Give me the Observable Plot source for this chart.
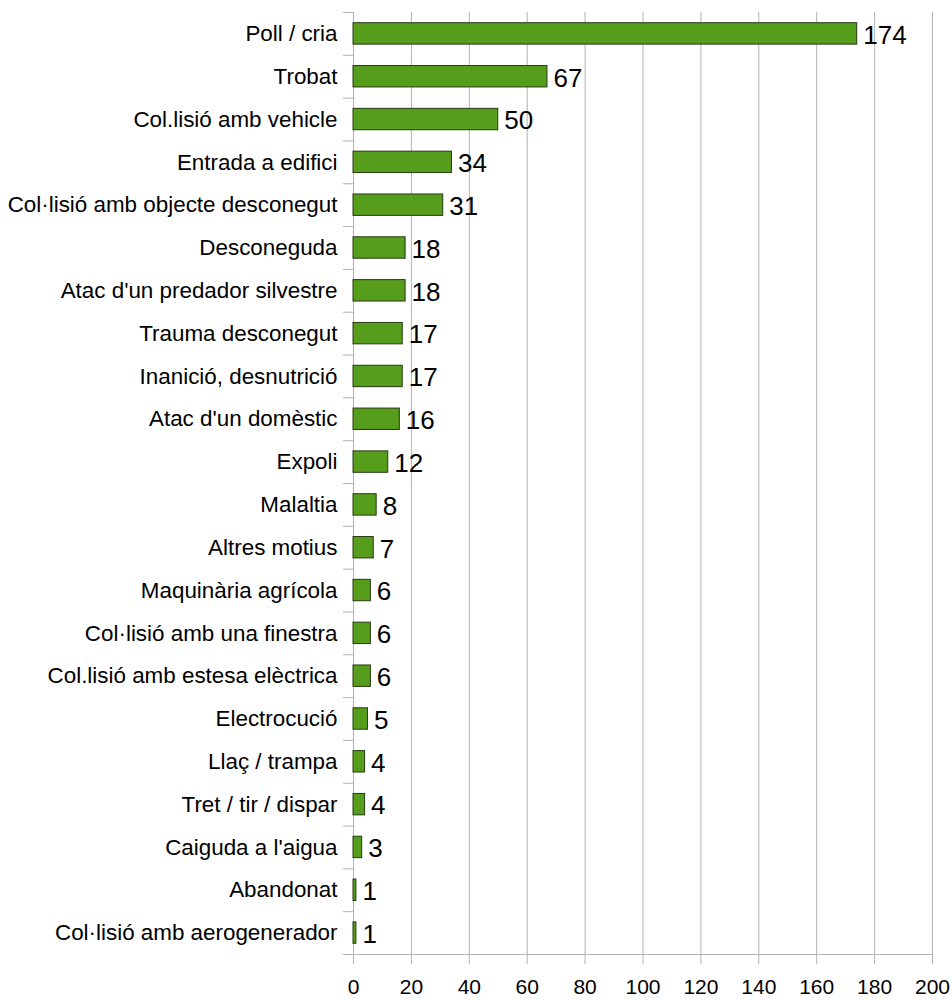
<!DOCTYPE html>
<html>
<head>
<meta charset="utf-8">
<script src="https://cdn.jsdelivr.net/npm/d3@7"></script>
<script src="https://cdn.jsdelivr.net/npm/@observablehq/plot@0.6"></script>
<style>
  html, body { margin: 0; padding: 0; background: #fff; }
  #chart svg { display: block; }
  #chart [aria-label="x-axis tick"] { stroke: #b3b3b3; }
</style>
</head>
<body>
<div id="chart"></div>
<script>
const categories = [
  "Poll / cria", "Trobat", "Col.lisió amb vehicle", "Entrada a edifici",
  "Col·lisió amb objecte desconegut", "Desconeguda", "Atac d'un predador silvestre",
  "Trauma desconegut", "Inanició, desnutrició", "Atac d'un domèstic", "Expoli",
  "Malaltia", "Altres motius", "Maquinària agrícola", "Col·lisió amb una finestra",
  "Col.lisió amb estesa elèctrica", "Electrocució", "Llaç / trampa",
  "Tret / tir / dispar", "Caiguda a l'aigua", "Abandonat", "Col·lisió amb aerogenerador"
];
const values = [174, 67, 50, 34, 31, 18, 18, 17, 17, 16, 12, 8, 7, 6, 6, 6, 5, 4, 4, 3, 1, 1];
const xTicks = [0, 20, 40, 60, 80, 100, 120, 140, 160, 180, 200];

const data = categories.map((c, i) => ({category: c, value: values[i]}));

const W = 952, H = 1000;
const mTop = 12, mBottom = 46, mLeft = 353, mRight = 20;
const step = (H - mTop - mBottom) / categories.length;
// band scale with padding 0.5 (inner & outer): range extended so band boundaries meet the frame
const r0 = mTop - step * 0.25;
const r1 = r0 + step * (categories.length + 0.5);

const chart = Plot.plot({
  width: W,
  height: H,
  marginTop: mTop,
  marginBottom: mBottom,
  marginLeft: mLeft,
  marginRight: mRight,
  style: {fontFamily: "'Liberation Sans', Arial, sans-serif", background: "#fff", color: "#000"},
  x: {domain: [0, 200]},
  y: {domain: categories, range: [r0, r1], padding: 0.5, round: false},
  marks: [
    Plot.ruleX(xTicks, {stroke: "#b3b3b3", strokeWidth: 1}),
    Plot.ruleY(categories, {y: d => d, dy: -step / 2, x1: -3.45, x2: 0, stroke: "#b3b3b3"}),
    Plot.ruleY([categories[categories.length - 1]], {y: d => d, dy: step / 2, x1: -3.45, x2: 200, stroke: "#b3b3b3"}),
    Plot.barX(data, {x: "value", y: "category", fill: "#579d1c", stroke: "#263a12", strokeWidth: 1}),
    Plot.text(data, {x: "value", y: "category", text: d => String(d.value), textAnchor: "start", dx: 6, dy: 1.5, fontSize: 26, fill: "#000"}),
    Plot.axisY({tickSize: 0, tickPadding: 16, fontSize: 22.4, label: null}),
    Plot.axisX({ticks: xTicks, tickSize: 10, tickPadding: 15, fontSize: 21, label: null, tickFormat: d => String(d)})
  ]
});
document.getElementById("chart").append(chart);
</script>
</body>
</html>
